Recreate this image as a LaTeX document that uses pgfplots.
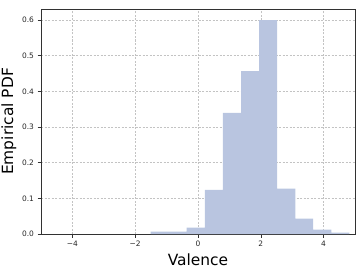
\documentclass[border=0pt]{standalone}
\usepackage{pgfplots}
\pgfplotsset{compat=1.18}
\usepackage{fontspec}
\setmainfont{DejaVu Sans}
\setsansfont{DejaVu Sans}
\definecolor{barc}{RGB}{185,197,224}
\definecolor{gridc}{RGB}{195,195,195}
\definecolor{axc}{RGB}{50,50,50}
\begin{document}
\begin{tikzpicture}
\begin{axis}[
  scale only axis,
  width=314bp, height=225bp,
  xmin=-5, xmax=5, ymin=0, ymax=0.631,
  xtick={-4,-2,0,2,4},
  xticklabels={−4,−2,0,2,4},
  ytick={0,0.1,0.2,0.3,0.4,0.5,0.6},
  yticklabels={0.0,0.1,0.2,0.3,0.4,0.5,0.6},
  tick label style={font=\fontsize{7.5}{8.5}\selectfont, text=black!85},
  tick align=outside,
  tick pos=left,
  major tick length=3.5bp,
  every tick/.style={axc, line width=0.6pt},
  axis line style={axc, line width=0.8pt},
  grid=major,
  major grid style={gridc, dash pattern=on 2bp off 1.5bp, line width=0.5pt},
  xlabel={Valence},
  ylabel={Empirical PDF},
  label style={font=\fontsize{15.5}{17}\selectfont},
  xlabel style={yshift=0bp},
  ylabel style={yshift=-1bp},
]
\addplot[ybar interval, fill=barc, draw=none] coordinates {
(-1.51,0.007) (-0.935,0.007) (-0.36,0.018) (0.216,0.124) (0.79,0.340)
(1.37,0.457) (1.945,0.600) (2.52,0.127) (3.10,0.043) (3.67,0.012)
(4.25,0.004) (4.82,0.004)
};
\end{axis}
\pgfresetboundingbox
\path[use as bounding box] ([xshift=-41bp,yshift=-42bp]current axis.south west) rectangle ([xshift=4bp,yshift=9bp]current axis.north east);
\end{tikzpicture}
\end{document}
